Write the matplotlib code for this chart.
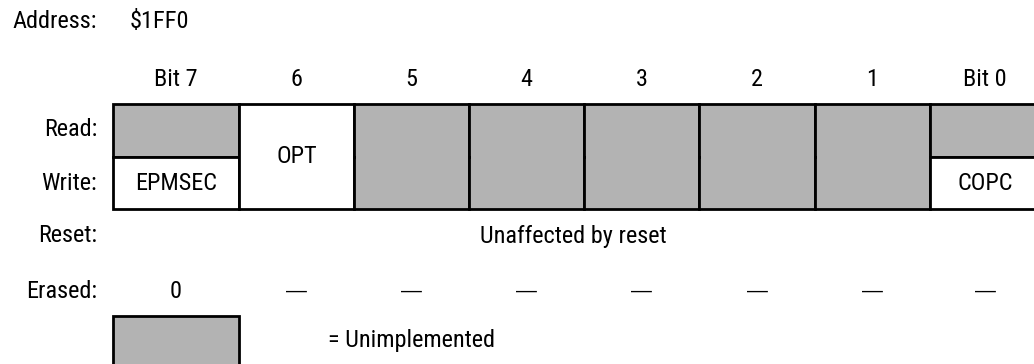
import matplotlib
matplotlib.use("Agg")
import matplotlib.pyplot as plt
from matplotlib.patches import Rectangle

# Register data
address = "$1FF0"
bit_labels = ["Bit 7", "6", "5", "4", "3", "2", "1", "Bit 0"]
read_names = ["", "OPT", "", "", "", "", "", ""]
write_names = ["EPMSEC", "OPT", "", "", "", "", "", "COPC"]
read_unimpl = [True, False, True, True, True, True, True, True]
write_unimpl = [False, False, True, True, True, True, True, False]
reset_text = "Unaffected by reset"
erased_vals = ["0", "—", "—", "—", "—", "—", "—", "—"]
row_labels = ["Read:", "Write:", "Reset:", "Erased:"]

# Layout (pixels)
W, H = 1034, 364
col_edges = [113, 239, 354, 469, 584, 699, 815, 930, 1046]
y_top, y_mid, y_bot = 104, 157, 209
gray = "#b3b3b3"
lw = 2.0

plt.rcParams["font.family"] = ["Roboto Condensed", "Liberation Sans Narrow",
                               "Liberation Sans", "DejaVu Sans"]
fs = 17.5

fig = plt.figure(figsize=(W / 100, H / 100), dpi=100)
ax = fig.add_axes([0, 0, 1, 1])
ax.set_xlim(0, W)
ax.set_ylim(H, 0)
ax.axis("off")

ax.text(97, 21, "Address:", ha="right", va="center", fontsize=fs)
ax.text(130, 21, address, ha="left", va="center", fontsize=fs)

label_y = [130, 183, 236, 291]
for lab, y in zip(row_labels, label_y):
    ax.text(97, y, lab, ha="right", va="center", fontsize=fs)

for i, b in enumerate(bit_labels):
    x0, x1 = col_edges[i], col_edges[i + 1]
    xc = (x0 + x1) / 2
    if i == 7:
        xc = 985
    ax.text(xc, 80, b, ha="center", va="center", fontsize=fs)

    merged = read_names[i] != "" and read_names[i] == write_names[i]
    if merged:
        ax.add_patch(Rectangle((x0, y_top), x1 - x0, y_bot - y_top,
                               facecolor="white", edgecolor="black", lw=lw))
        ax.text(xc, (y_top + y_bot) / 2, read_names[i], ha="center", va="center", fontsize=fs)
    else:
        ax.add_patch(Rectangle((x0, y_top), x1 - x0, y_mid - y_top,
                               facecolor=gray if read_unimpl[i] else "white",
                               edgecolor="black", lw=lw))
        ax.add_patch(Rectangle((x0, y_mid), x1 - x0, y_bot - y_mid,
                               facecolor=gray if write_unimpl[i] else "white",
                               edgecolor="black", lw=lw))
        if write_unimpl[i] and read_unimpl[i]:
            # hide the mid line on fully unimplemented bits
            ax.add_patch(Rectangle((x0 + 1.5, y_mid - 2), x1 - x0 - 3, 4,
                                   facecolor=gray, edgecolor="none", zorder=3))
        if read_names[i]:
            ax.text(xc, (y_top + y_mid) / 2, read_names[i], ha="center", va="center", fontsize=fs)
        if write_names[i]:
            ax.text(xc, (y_mid + y_bot) / 2 + 1, write_names[i], ha="center", va="center", fontsize=fs)

    if erased_vals[i] == "—":
        ax.text(xc, 291, erased_vals[i], ha="center", va="center", fontsize=15,
                family=["Liberation Sans", "DejaVu Sans"])
    else:
        ax.text(xc, 291, erased_vals[i], ha="center", va="center", fontsize=fs)

ax.text(573, 236, reset_text, ha="center", va="center", fontsize=fs)

# Legend
ax.add_patch(Rectangle((113, 316), 126, 60, facecolor=gray, edgecolor="black", lw=lw))
ax.text(328, 341, "= Unimplemented", ha="left", va="center", fontsize=fs)

fig.savefig("out.png", dpi=100)
